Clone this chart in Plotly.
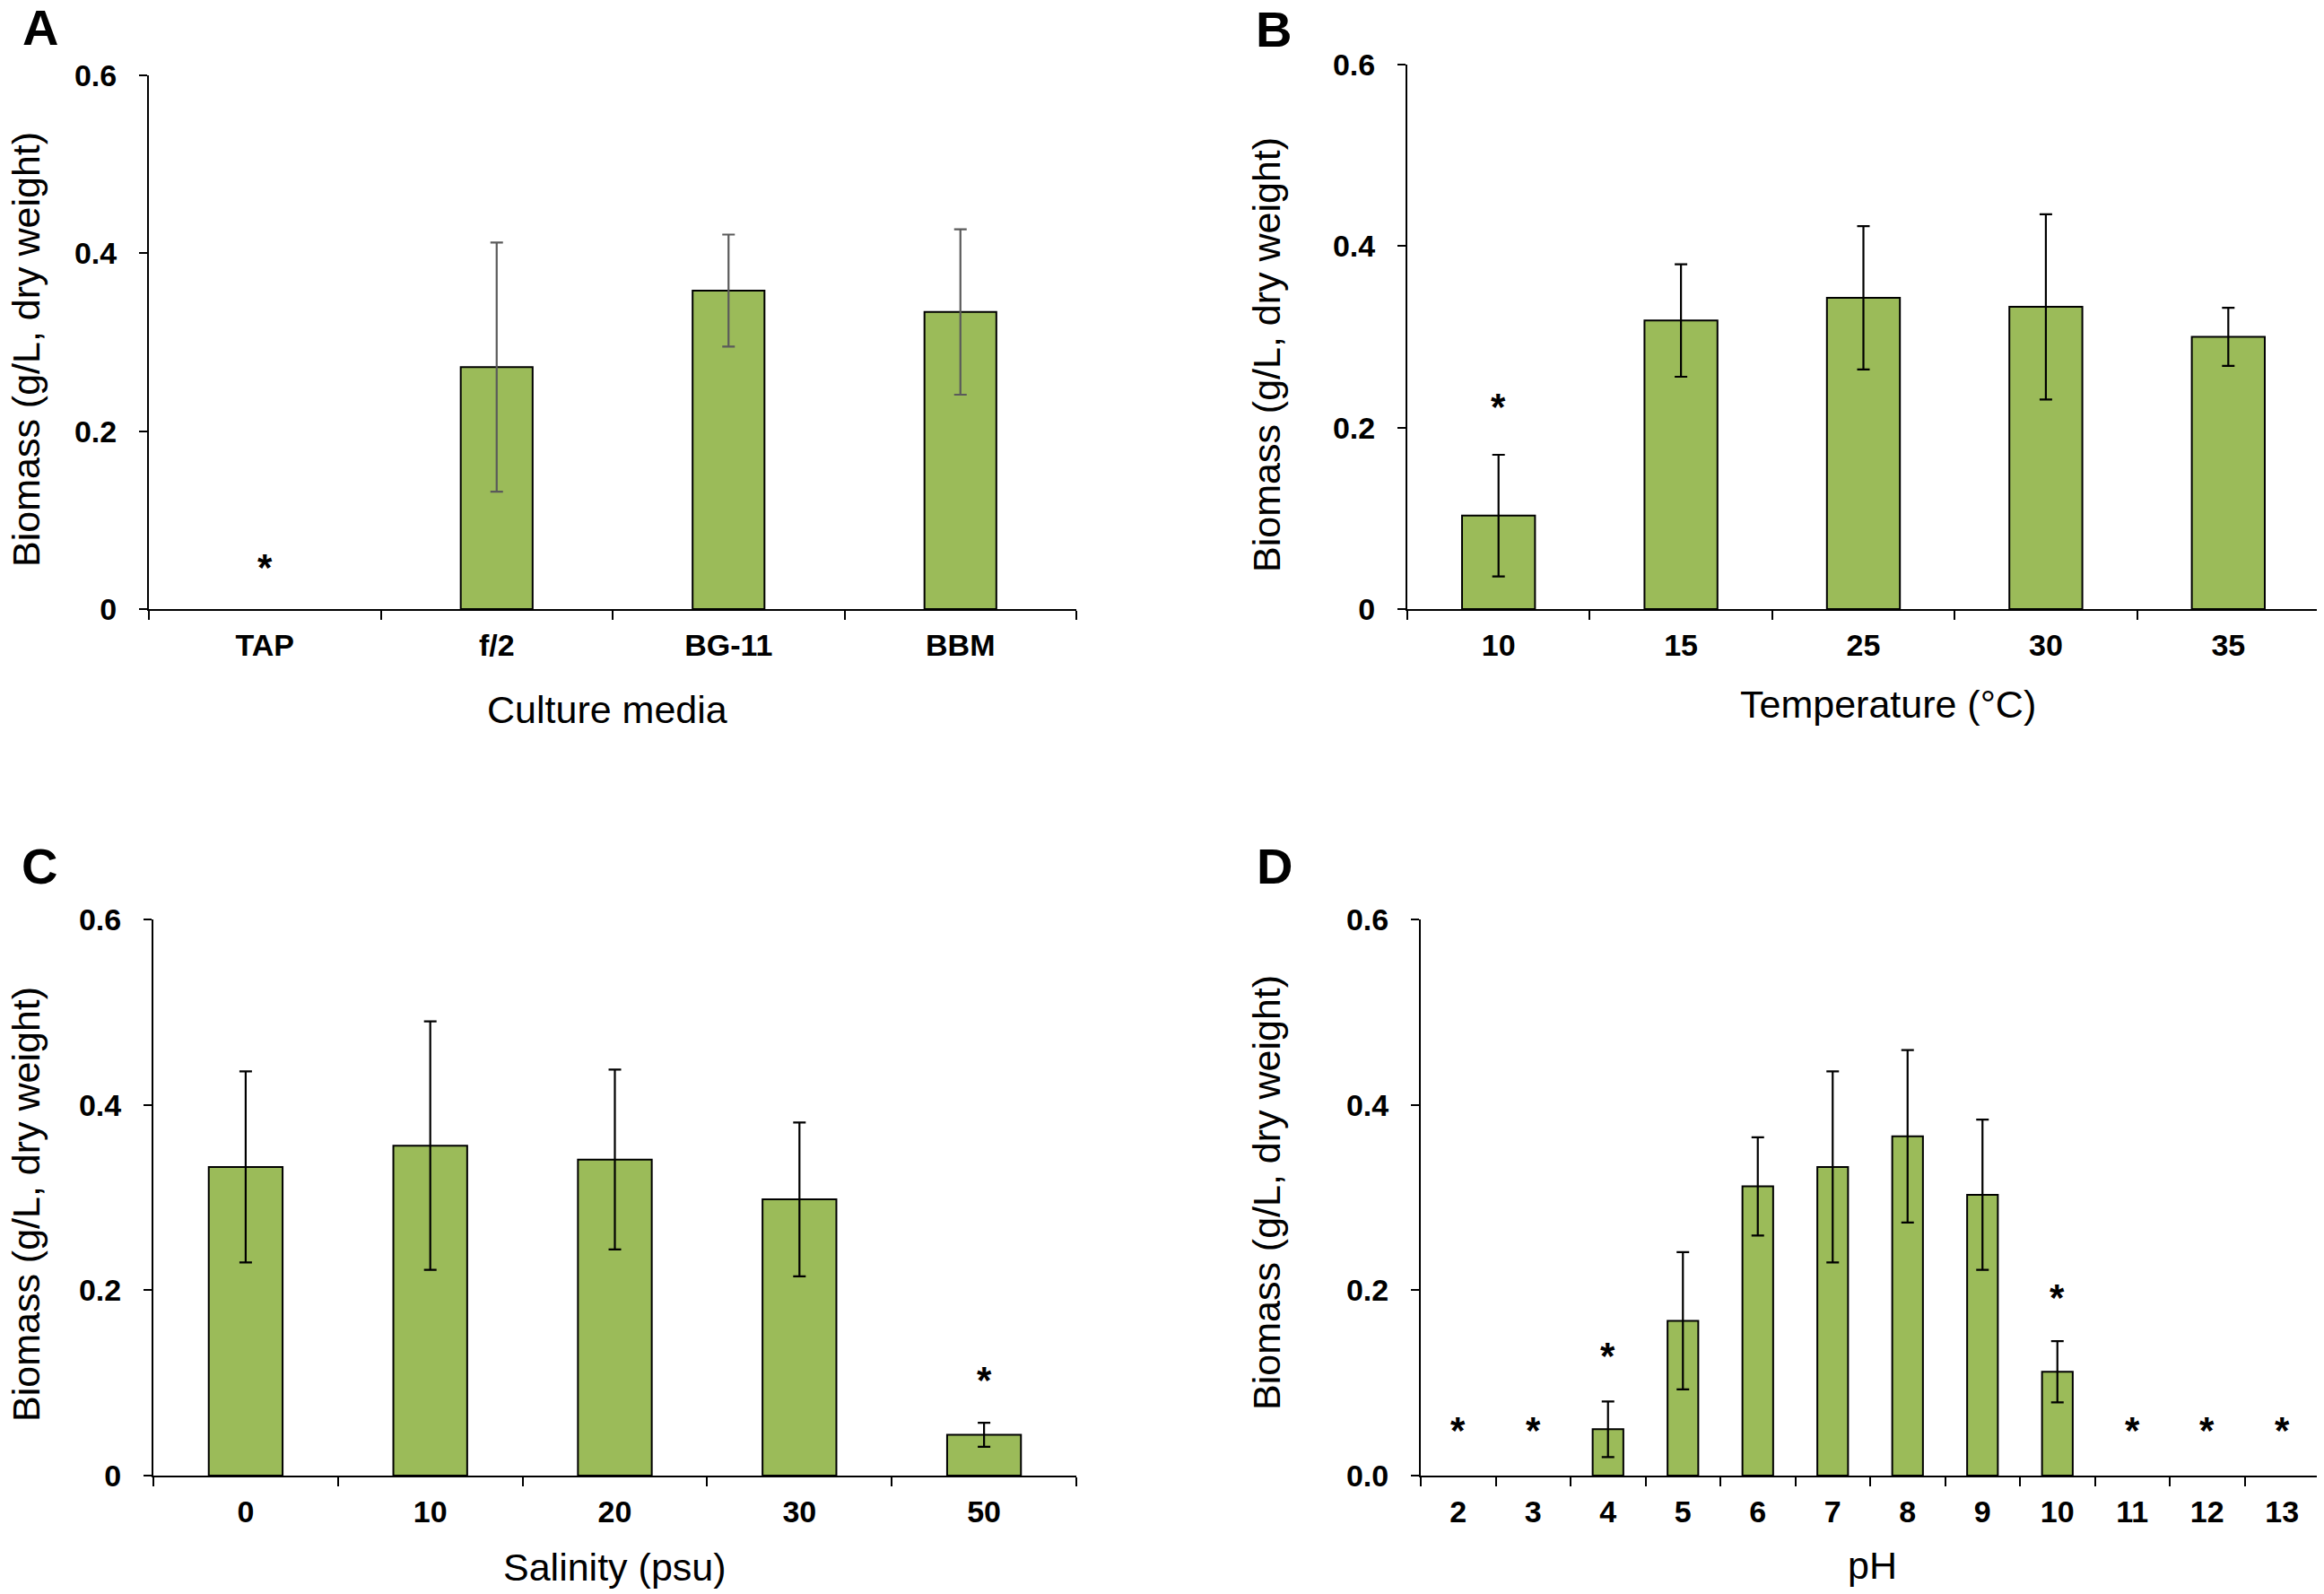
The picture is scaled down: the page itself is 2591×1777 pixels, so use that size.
import plotly.graph_objects as go

# ─── DATOS ──────────────────────────────────────────────────
media = ["TAP", "f/2", "BG-11", "BBM"]
media_mean = [None, 0.272, 0.358, 0.334]
media_sd = [None, 0.140, 0.063, 0.093]
media_star = [0.051, None, None, None]

temp = ["10", "15", "25", "30", "35"]
temp_mean = [0.103, 0.318, 0.343, 0.333, 0.300]
temp_sd = [0.067, 0.062, 0.079, 0.102, 0.032]
temp_star = [0.227, None, None, None, None]

sal = ["0", "10", "20", "30", "50"]
sal_mean = [0.333, 0.356, 0.341, 0.298, 0.044]
sal_sd = [0.103, 0.134, 0.097, 0.083, 0.013]
sal_star = [None, None, None, None, 0.107]

ph = ["2", "3", "4", "5", "6", "7", "8", "9", "10", "11", "12", "13"]
ph_mean = [None, None, 0.050, 0.167, 0.312, 0.333, 0.366, 0.303, 0.112, None, None, None]
ph_sd = [None, None, 0.030, 0.074, 0.053, 0.103, 0.093, 0.081, 0.033, None, None, None]
ph_star = [0.053, 0.053, 0.133, None, None, None, None, None, 0.196, 0.053, 0.053, 0.053]

y_ticks = [0, 0.2, 0.4, 0.6]
y_text = ["0", "0.2", "0.4", "0.6"]
y_text_ph = ["0.0", "0.2", "0.4", "0.6"]

# ─── ESTILO ─────────────────────────────────────────────────
W, H = 2591, 1777
OFF = 8   # margen del body de la pagina
GREEN = "#9BBB59"
FONT = "Liberation Sans, Arial, sans-serif"

def px_x(v):
    return (v - OFF) / W

def px_y(v):
    return 1 - (v - OFF) / H

panels = [
    dict(cats=media, mean=media_mean, sd=media_sd, star=media_star, yt=y_text,
         err="#5a5a5a", bw=0.31, box=(166, 1200, 84, 679), xtitle="Culture media",
         xt=(677, 791), ytl=(29, 390), letter="A", lt=(45, 30)),
    dict(cats=temp, mean=temp_mean, sd=temp_sd, star=temp_star, yt=y_text,
         err="black", bw=0.40, box=(1569, 2586, 72, 679), xtitle="Temperature (°C)",
         xt=(2105, 785), ytl=(1412, 396), letter="B", lt=(1420, 32)),
    dict(cats=sal, mean=sal_mean, sd=sal_sd, star=sal_star, yt=y_text,
         err="black", bw=0.40, box=(171, 1200, 1025, 1645), xtitle="Salinity (psu)",
         xt=(685, 1747), ytl=(29, 1343), letter="C", lt=(44, 965)),
    dict(cats=ph, mean=ph_mean, sd=ph_sd, star=ph_star, yt=y_text_ph,
         err="black", bw=0.41, box=(1584, 2586, 1025, 1645), xtitle="pH",
         xt=(2087, 1745), ytl=(1412, 1330), letter="D", lt=(1421, 965)),
]

fig = go.Figure()
annotations = []

for i, p in enumerate(panels, start=1):
    sfx = "" if i == 1 else str(i)
    xa, ya = "x" + sfx, "y" + sfx
    fig.add_trace(go.Bar(
        x=p["cats"], y=p["mean"], xaxis=xa, yaxis=ya,
        width=p["bw"],
        marker=dict(color=GREEN, line=dict(color="black", width=2)),
        error_y=dict(type="data", array=p["sd"], visible=True,
                     color=p["err"], thickness=2.2, width=7),
        showlegend=False,
    ))
    # asteriscos: en eje categorico la x de la anotacion es el indice de la categoria
    for k, s in enumerate(p["star"]):
        if s is not None:
            annotations.append(dict(x=k, y=s, xref=xa, yref=ya, text="*", showarrow=False,
                                    yshift=-4, font=dict(family=FONT, size=42, color="black",
                                                         weight="bold")))
    x0, x1, yt, yb = p["box"]
    fig.update_layout(**{
        "xaxis" + sfx: dict(
            domain=[px_x(x0), px_x(x1)], anchor=ya, type="category",
            categoryorder="array", categoryarray=p["cats"],
            range=[-0.5, len(p["cats"]) - 0.5], automargin=False,
            showline=True, linecolor="black", linewidth=2,
            ticks="outside", tickson="boundaries", ticklen=10, tickwidth=2, tickcolor="black",
            tickfont=dict(family=FONT, size=34, color="black", weight="bold"),
            ticklabelstandoff=9, showgrid=False, zeroline=False, fixedrange=True,
        ),
        "yaxis" + sfx: dict(
            domain=[px_y(yb), px_y(yt)], anchor=xa, range=[0, 0.6], automargin=False,
            tickvals=y_ticks, ticktext=p["yt"],
            showline=True, linecolor="black", linewidth=2,
            ticks="outside", ticklen=9, tickwidth=2, tickcolor="black",
            tickfont=dict(family=FONT, size=34, color="black", weight="bold"),
            ticklabelstandoff=18, showgrid=False, zeroline=False, fixedrange=True,
        ),
    })
    annotations.append(dict(x=px_x(p["xt"][0]), y=px_y(p["xt"][1]), xref="paper", yref="paper",
                            text=p["xtitle"], showarrow=False, xanchor="center", yanchor="middle",
                            font=dict(family=FONT, size=43, color="black")))
    annotations.append(dict(x=px_x(p["ytl"][0]), y=px_y(p["ytl"][1]), xref="paper", yref="paper",
                            text="Biomass (g/L, dry weight)", textangle=-90, showarrow=False,
                            xanchor="center", yanchor="middle",
                            font=dict(family=FONT, size=43, color="black")))
    annotations.append(dict(x=px_x(p["lt"][0]), y=px_y(p["lt"][1]), xref="paper", yref="paper",
                            text=p["letter"], showarrow=False, xanchor="center", yanchor="middle",
                            font=dict(family=FONT, size=56, color="black", weight="bold")))

fig.update_layout(
    width=W, height=H,
    margin=dict(l=0, r=0, t=0, b=0, autoexpand=False),
    paper_bgcolor="white", plot_bgcolor="white",
    annotations=annotations,
)

fig.write_html("out.html")
